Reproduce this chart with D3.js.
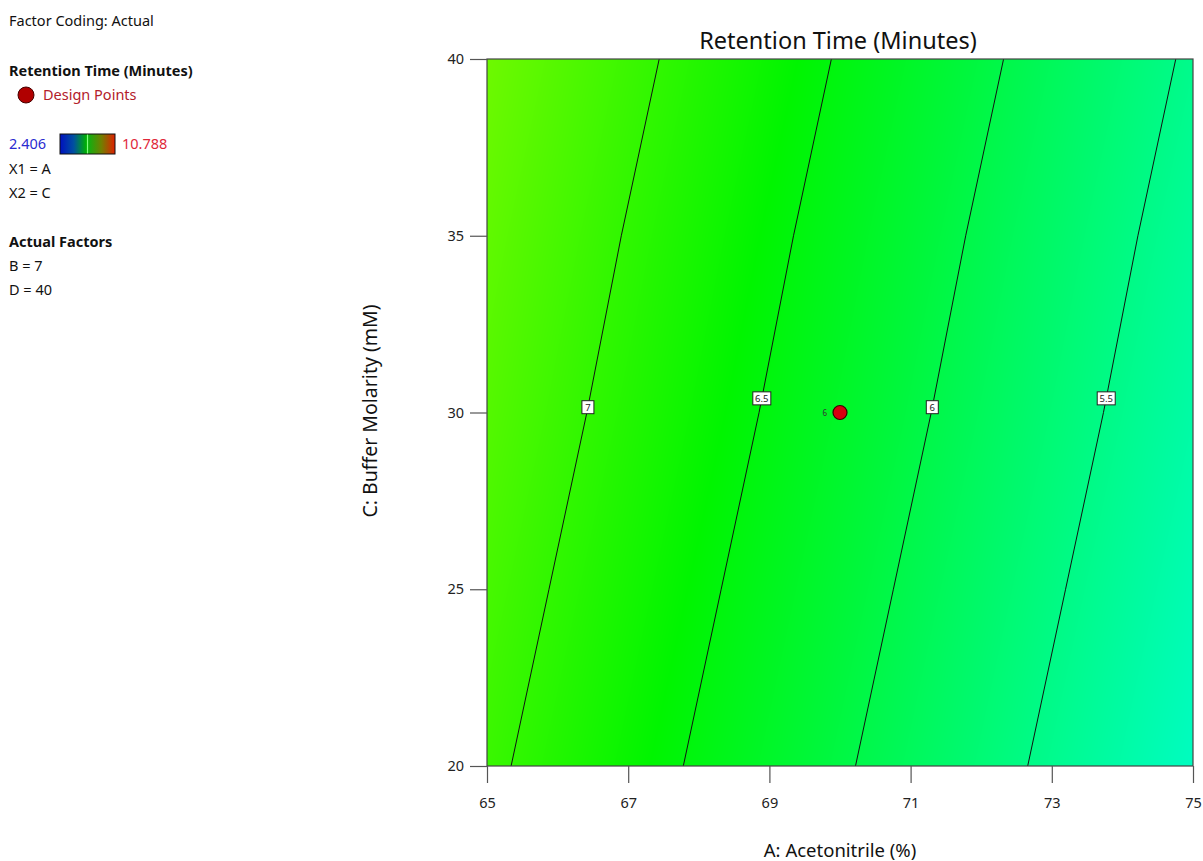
<!DOCTYPE html>
<html>
<head>
<meta charset="utf-8">
<script src="https://cdn.jsdelivr.net/npm/d3@7"></script>
<style>
  html, body { margin: 0; padding: 0; background: #fff; }
  svg { display: block; font-family: "Segoe UI", "Noto Sans", "Open Sans", sans-serif; }
</style>
</head>
<body>
<svg id="chart" width="1203" height="861"></svg>
<script>
// Factor grid: A (Acetonitrile %) columns, C (Buffer Molarity mM) rows
const acetonitrile = [65, 67, 69, 71, 73, 75];
const molarity = [20, 25, 30, 35, 40];
// Predicted retention time (minutes) at each grid node, one row per molarity
const retention = [
  [7.07, 6.66, 6.25, 5.84, 5.43, 5.02],
  [7.18, 6.77, 6.36, 5.95, 5.54, 5.13],
  [7.29, 6.88, 6.47, 6.06, 5.65, 5.24],
  [7.39, 6.98, 6.57, 6.16, 5.75, 5.34],
  [7.50, 7.09, 6.68, 6.27, 5.86, 5.45]
];
const contourLevels = [7, 6.5, 6, 5.5];
const contourLabelC = [30.15, 30.4, 30.15, 30.4];
const xTicks = [65, 67, 69, 71, 73, 75];
const yTicks = [20, 25, 30, 35, 40];
const designPoints = [{ a: 70, c: 30, count: 6 }];
const responseRange = [2.406, 10.788];
const legendLines = ["X1 = A", "X2 = C"];
const actualFactors = ["B = 7", "D = 40"];

const svg = d3.select("#chart");
const plotLeft = 487, plotRight = 1193, plotTop = 59, plotBottom = 766;

const x = d3.scaleLinear().domain([65, 75]).range([plotLeft, plotRight]);
const y = d3.scaleLinear().domain([20, 40]).range([plotBottom, plotTop]);

// Rainbow ramp used for the response surface: blue -> cyan -> green -> yellow -> red
const [rMin, rMax] = responseRange;
const rMid = (rMin + rMax) / 2;
const color = d3.scaleLinear()
  .domain([rMin, (rMin + rMid) / 2, rMid, (rMid + rMax) / 2, rMax])
  .range(["#0000ff", "#00ffff", "#00f500", "#ffff00", "#ff0000"])
  .interpolate(d3.interpolateRgb)
  .clamp(true);

// Bilinear lookup inside the factor grid
function valueAt(a, c) {
  const ia = Math.max(0, Math.min(acetonitrile.length - 2, d3.bisectRight(acetonitrile, a) - 1));
  const ic = Math.max(0, Math.min(molarity.length - 2, d3.bisectRight(molarity, c) - 1));
  const ta = (a - acetonitrile[ia]) / (acetonitrile[ia + 1] - acetonitrile[ia]);
  const tc = (c - molarity[ic]) / (molarity[ic + 1] - molarity[ic]);
  const v00 = retention[ic][ia], v01 = retention[ic][ia + 1];
  const v10 = retention[ic + 1][ia], v11 = retention[ic + 1][ia + 1];
  return (v00 * (1 - ta) + v01 * ta) * (1 - tc) + (v10 * (1 - ta) + v11 * ta) * tc;
}

// Shaded surface rendered to a canvas and placed as an image
const w = plotRight - plotLeft, h = plotBottom - plotTop;
const canvas = document.createElement("canvas");
canvas.width = w; canvas.height = h;
const ctx = canvas.getContext("2d");
const img = ctx.createImageData(w, h);
for (let py = 0; py < h; py++) {
  const c = y.invert(plotTop + py + 0.5);
  for (let px = 0; px < w; px++) {
    const a = x.invert(plotLeft + px + 0.5);
    const col = d3.rgb(color(valueAt(a, c)));
    const k = (py * w + px) * 4;
    img.data[k] = col.r; img.data[k + 1] = col.g; img.data[k + 2] = col.b; img.data[k + 3] = 255;
  }
}
ctx.putImageData(img, 0, 0);
svg.append("image")
  .attr("x", plotLeft).attr("y", plotTop).attr("width", w).attr("height", h)
  .attr("preserveAspectRatio", "none")
  .attr("href", canvas.toDataURL());

// Contour lines: crossing point of each grid row with the level
function isoline(level) {
  const pts = [];
  molarity.forEach((c, ri) => {
    const row = retention[ri];
    for (let i = 0; i < row.length - 1; i++) {
      const v0 = row[i], v1 = row[i + 1];
      if ((v0 - level) * (v1 - level) <= 0 && v0 !== v1) {
        const t = (level - v0) / (v1 - v0);
        pts.push([acetonitrile[i] + t * (acetonitrile[i + 1] - acetonitrile[i]), c]);
        break;
      }
    }
  });
  return pts;
}
function crossingAt(pts, c) {
  for (let i = 0; i < pts.length - 1; i++) {
    if (c >= pts[i][1] && c <= pts[i + 1][1]) {
      const t = (c - pts[i][1]) / (pts[i + 1][1] - pts[i][1]);
      return pts[i][0] + t * (pts[i + 1][0] - pts[i][0]);
    }
  }
  return pts[0][0];
}
const line = d3.line().x(d => x(d[0])).y(d => y(d[1]));
const contourG = svg.append("g");
contourLevels.forEach((lv, i) => {
  const pts = isoline(lv);
  contourG.append("path")
    .attr("d", line(pts))
    .attr("fill", "none")
    .attr("stroke", "#111")
    .attr("stroke-width", 1);
  const la = crossingAt(pts, contourLabelC[i]);
  const lx = x(la), ly = y(contourLabelC[i]);
  const txt = String(lv);
  const bw = txt.length > 1 ? 18 : 12;
  contourG.append("rect")
    .attr("x", lx - bw / 2).attr("y", ly - 6.5).attr("width", bw).attr("height", 13)
    .attr("fill", "#fff").attr("stroke", "#222").attr("stroke-width", 1);
  contourG.append("text")
    .attr("x", lx).attr("y", ly + 3.5)
    .attr("text-anchor", "middle")
    .attr("font-size", 9.5).attr("fill", "#222")
    .text(txt);
});

// Plot frame
svg.append("rect")
  .attr("x", plotLeft).attr("y", plotTop).attr("width", w).attr("height", h)
  .attr("fill", "none").attr("stroke", "#444").attr("stroke-width", 1.2);

// Axes
const xAxis = svg.append("g").attr("transform", `translate(0,${plotBottom})`)
  .call(d3.axisBottom(x).tickValues(xTicks).tickSize(17).tickPadding(15).tickFormat(d3.format("d")));
const yAxis = svg.append("g").attr("transform", `translate(${plotLeft},0)`)
  .call(d3.axisLeft(y).tickValues(yTicks).tickSize(17).tickPadding(6).tickFormat(d3.format("d")));
[xAxis, yAxis].forEach(g => {
  g.select(".domain").remove();
  g.selectAll(".tick line").attr("stroke", "#555").attr("stroke-width", 1.2);
  g.selectAll(".tick text").attr("font-size", 14.5).attr("fill", "#222")
    .attr("font-family", "'Segoe UI', 'Noto Sans', sans-serif");
});

// Design points
designPoints.forEach(p => {
  svg.append("circle")
    .attr("cx", x(p.a)).attr("cy", y(p.c)).attr("r", 7)
    .attr("fill", "#d7000f").attr("stroke", "#3a0000").attr("stroke-width", 1.2);
  svg.append("text")
    .attr("x", x(p.a) - 13).attr("y", y(p.c) + 3)
    .attr("text-anchor", "end").attr("font-size", 8).attr("fill", "#333")
    .text(p.count);
});

// Titles
svg.append("text").attr("x", 838).attr("y", 49).attr("text-anchor", "middle")
  .attr("font-size", 23.5).attr("fill", "#111").text("Retention Time (Minutes)");
svg.append("text").attr("x", 840).attr("y", 857).attr("text-anchor", "middle")
  .attr("font-size", 18.5).attr("fill", "#111").text("A: Acetonitrile (%)");
svg.append("text").attr("transform", "translate(377,411) rotate(-90)").attr("text-anchor", "middle")
  .attr("font-size", 19.5).attr("fill", "#111").text("C: Buffer Molarity (mM)");

// Legend panel
const lg = svg.append("g").attr("font-size", 14.5).attr("fill", "#111");
lg.append("text").attr("x", 9).attr("y", 26).text("Factor Coding: Actual");
lg.append("text").attr("x", 9).attr("y", 76).attr("font-weight", "bold").text("Retention Time (Minutes)");
lg.append("circle").attr("cx", 26).attr("cy", 95).attr("r", 8)
  .attr("fill", "#b00000").attr("stroke", "#400").attr("stroke-width", 1);
lg.append("text").attr("x", 43).attr("y", 100).attr("fill", "#b3202a").text("Design Points");

const defs = svg.append("defs");
const grad = defs.append("linearGradient").attr("id", "ramp").attr("x1", "0%").attr("x2", "100%");
[["0%", "#0010c0"], ["25%", "#0050a0"], ["48%", "#00b000"], ["50%", "#80ff80"], ["52%", "#10b010"],
 ["75%", "#708000"], ["100%", "#e02000"]].forEach(([o, c]) =>
  grad.append("stop").attr("offset", o).attr("stop-color", c));
lg.append("text").attr("x", 9).attr("y", 149).attr("fill", "#2b2bd0").text(d3.format(".3f")(rMin));
lg.append("rect").attr("x", 60).attr("y", 134).attr("width", 55).attr("height", 20)
  .attr("fill", "url(#ramp)").attr("stroke", "#111").attr("stroke-width", 1);
lg.append("text").attr("x", 122).attr("y", 149).attr("fill", "#e0283a").text(d3.format(".3f")(rMax));
legendLines.forEach((t, i) => lg.append("text").attr("x", 9).attr("y", 174 + i * 24).text(t));
lg.append("text").attr("x", 9).attr("y", 247).attr("font-weight", "bold").text("Actual Factors");
actualFactors.forEach((t, i) => lg.append("text").attr("x", 9).attr("y", 271 + i * 24).text(t));
</script>
</body>
</html>
